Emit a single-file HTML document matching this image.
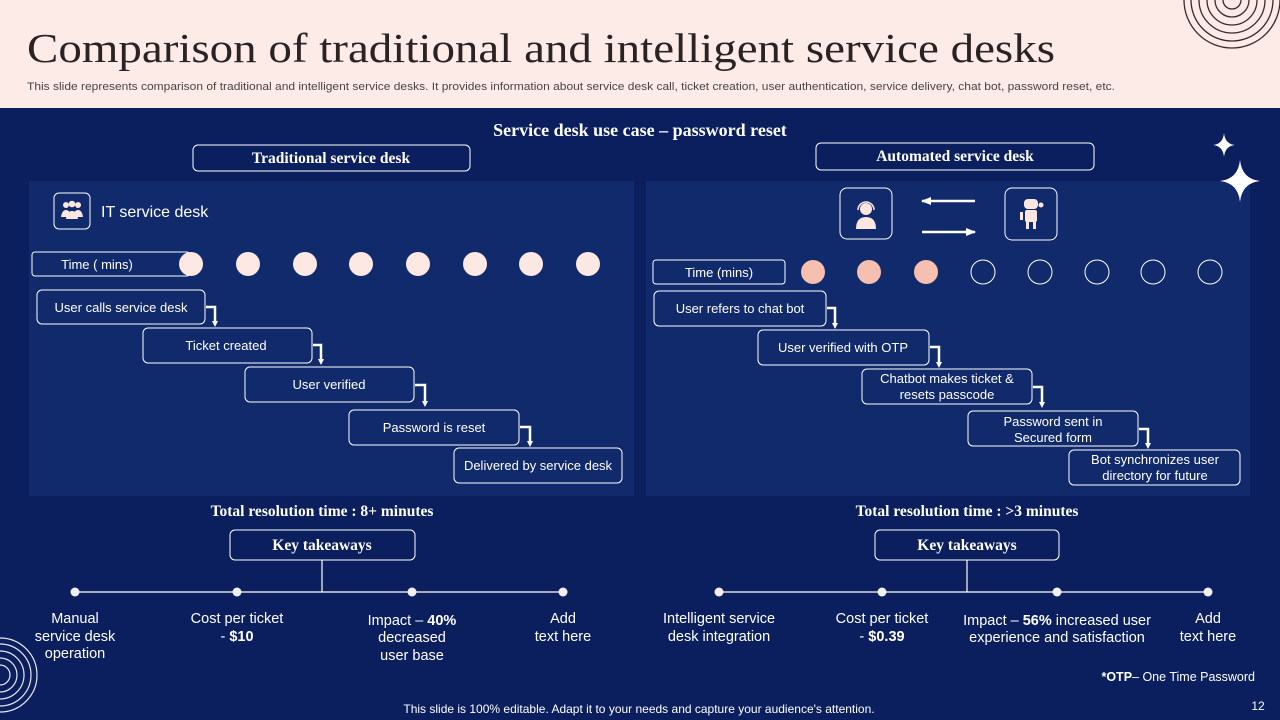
<!DOCTYPE html>
<html><head><meta charset="utf-8"><style>
html,body{margin:0;padding:0;width:1280px;height:720px;overflow:hidden;background:#0b1f5e}
svg{display:block}
.s{font-family:"Liberation Sans",Arial,sans-serif;fill:#fff}
.r{font-family:"Liberation Serif",serif;font-weight:bold;fill:#fff}
</style></head><body>
<svg width="1280" height="720" viewBox="0 0 1280 720" xmlns="http://www.w3.org/2000/svg">
<defs>
<marker id="ah" markerWidth="6" markerHeight="6" refX="3" refY="3" orient="auto" markerUnits="userSpaceOnUse">
<path d="M0,0 L6,3 L0,6 z" fill="#fff"/></marker>
<marker id="ah2" markerWidth="10" markerHeight="8" refX="9" refY="4" orient="auto" markerUnits="userSpaceOnUse">
<path d="M0,0 L10,4 L0,8 z" fill="#fff"/></marker>
<clipPath id="top"><rect x="0" y="0" width="1280" height="108"/></clipPath>
<clipPath id="bl"><rect x="0" y="108" width="1280" height="612"/></clipPath>
</defs>
<rect x="0" y="0" width="1280" height="720" fill="#0b1f5e"/>
<rect x="0" y="0" width="1280" height="108" fill="#fdebe7"/>
<g clip-path="url(#top)" fill="none" stroke="#3a2a2a" stroke-width="1.3">
<circle cx="1232" cy="0" r="9"/><circle cx="1232" cy="0" r="17"/><circle cx="1232" cy="0" r="25"/><circle cx="1232" cy="0" r="33"/><circle cx="1232" cy="0" r="41"/><circle cx="1232" cy="0" r="48"/>
</g>
<text x="27" y="62" font-family="Liberation Serif,serif" font-size="41" fill="#2b2323" textLength="1028" lengthAdjust="spacingAndGlyphs">Comparison of traditional and intelligent service desks</text>
<text x="27" y="90" font-family="Liberation Sans,sans-serif" font-size="11" fill="#4a4444" textLength="1088" lengthAdjust="spacingAndGlyphs">This slide represents comparison of traditional and intelligent service desks. It provides information about service desk call, ticket creation, user authentication, service delivery, chat bot, password reset, etc.</text>
<g clip-path="url(#bl)" fill="none" stroke="#e8e8f0" stroke-width="1.2">
<circle cx="0" cy="675" r="10"/><circle cx="0" cy="675" r="17"/><circle cx="0" cy="675" r="24"/><circle cx="0" cy="675" r="31"/><circle cx="0" cy="675" r="37"/>
</g>

<text x="640" y="136" text-anchor="middle" class="r" font-size="18">Service desk use case – password reset</text>
<rect x="193" y="145" width="277" height="26" rx="5" fill="none" stroke="#fff" stroke-width="1"/>
<text x="331" y="163" text-anchor="middle" class="r" font-size="15.5">Traditional service desk</text>
<rect x="816" y="143" width="278" height="27" rx="5" fill="none" stroke="#fff" stroke-width="1"/>
<text x="955" y="161" text-anchor="middle" class="r" font-size="15.5">Automated service desk</text>

<rect x="29" y="181" width="605" height="315" fill="#112a6b"/>
<rect x="646" y="181" width="604" height="315" fill="#112a6b"/>

<!-- stars -->
<path d="M1224,133 Q1225,144 1235,145 Q1225,146 1224,157 Q1223,146 1213,145 Q1223,144 1224,133z" fill="#fff"/>
<path d="M1240,160 Q1242,179 1260,181 Q1242,183 1240,202 Q1238,183 1220,181 Q1238,179 1240,160z" fill="#fff"/>

<!-- left -->
<rect x="54" y="193" width="36" height="36" rx="5" fill="none" stroke="#fff"/>
<g fill="#fde6e0"><circle cx="66" cy="205" r="3"/><circle cx="72" cy="204" r="3.3"/><circle cx="78" cy="205" r="3"/>
<path d="M61,217 q1,-7 5,-7 q4,0 5,7z"/><path d="M66,219 q1,-8 6,-8 q5,0 6,8z"/><path d="M73,217 q1,-7 5,-7 q4,0 5,7z"/></g>
<text x="101" y="217" class="s" font-size="16">IT  service desk</text>
<rect x="32" y="252" width="158" height="24" rx="3" fill="none" stroke="#fff"/>
<text x="97" y="269" text-anchor="middle" class="s" font-size="13">Time ( mins)</text>
<g fill="#fde8e4"><circle cx="191" cy="264" r="12"/><circle cx="248" cy="264" r="12"/><circle cx="305" cy="264" r="12"/><circle cx="361" cy="264" r="12"/><circle cx="418" cy="264" r="12"/><circle cx="475" cy="264" r="12"/><circle cx="531" cy="264" r="12"/><circle cx="588" cy="264" r="12"/></g>
<g fill="none" stroke="#fff" stroke-width="1">
<rect x="37" y="290" width="168" height="34" rx="5"/>
<rect x="143" y="328" width="169" height="35" rx="5"/>
<rect x="245" y="367" width="169" height="35" rx="5"/>
<rect x="349" y="410" width="170" height="35" rx="5"/>
<rect x="454" y="448" width="168" height="35" rx="5"/>
</g>
<g class="s" font-size="13" text-anchor="middle">
<text x="121" y="312">User calls service  desk</text>
<text x="226" y="350">Ticket created</text>
<text x="329" y="389">User verified</text>
<text x="434" y="432">Password is reset</text>
<text x="538" y="470">Delivered  by service desk</text>
</g>
<g fill="none" stroke="#fff" stroke-width="2.5" marker-end="url(#ah)">
<path d="M206,307 H215 V324"/>
<path d="M313,345 H321 V362"/>
<path d="M415,385 H425 V404"/>
<path d="M520,427 H530 V444"/>
</g>

<!-- right -->
<rect x="840" y="188" width="52" height="51" rx="7" fill="none" stroke="#fff"/>
<g fill="#fde6e0"><circle cx="866" cy="209" r="6"/><path d="M856,229 q0,-12 10,-12 q10,0 10,12z"/></g>
<path d="M858,210 a8,8 0 0 1 16,0" fill="none" stroke="#fde6e0" stroke-width="1.6"/>
<rect x="1005" y="188" width="52" height="52" rx="7" fill="none" stroke="#fff"/>
<g fill="#fde6e0"><rect x="1024" y="199" width="14" height="10" rx="4"/><rect x="1025" y="210" width="12" height="12" rx="2"/><rect x="1026" y="222" width="3" height="7"/><rect x="1033" y="222" width="3" height="7"/><rect x="1020" y="212" width="3" height="8"/><circle cx="1041" cy="205" r="2.5"/></g>
<line x1="975" y1="201" x2="922" y2="201" stroke="#fff" stroke-width="2.5" marker-end="url(#ah2)"/>
<line x1="922" y1="232" x2="975" y2="232" stroke="#fff" stroke-width="2.5" marker-end="url(#ah2)"/>
<rect x="653" y="260" width="132" height="24" rx="3" fill="none" stroke="#fff"/>
<text x="719" y="277" text-anchor="middle" class="s" font-size="13">Time (mins)</text>
<g fill="#f6bfb0"><circle cx="813" cy="272" r="12"/><circle cx="869" cy="272" r="12"/><circle cx="926" cy="272" r="12"/></g>
<g fill="none" stroke="#fff" stroke-width="1"><circle cx="983" cy="272" r="12"/><circle cx="1040" cy="272" r="12"/><circle cx="1097" cy="272" r="12"/><circle cx="1153" cy="272" r="12"/><circle cx="1210" cy="272" r="12"/></g>
<g fill="none" stroke="#fff" stroke-width="1">
<rect x="654" y="291" width="172" height="35" rx="5"/>
<rect x="758" y="330" width="171" height="35" rx="5"/>
<rect x="862" y="369" width="170" height="35" rx="5"/>
<rect x="968" y="411" width="170" height="35" rx="5"/>
<rect x="1069" y="450" width="171" height="35" rx="5"/>
</g>
<g class="s" font-size="13" text-anchor="middle">
<text x="740" y="313">User refers to chat bot</text>
<text x="843" y="352">User verified  with OTP</text>
<text x="947" y="383">Chatbot  makes ticket &amp;</text>
<text x="947" y="399">resets passcode</text>
<text x="1053" y="426">Password sent in</text>
<text x="1053" y="442">Secured form</text>
<text x="1155" y="464">Bot synchronizes user</text>
<text x="1155" y="480">directory for future</text>
</g>
<g fill="none" stroke="#fff" stroke-width="2.5" marker-end="url(#ah)">
<path d="M827,308 H835 V326"/>
<path d="M930,347 H939 V365"/>
<path d="M1033,387 H1042 V405"/>
<path d="M1139,429 H1148 V446"/>
</g>

<!-- bottom -->
<text x="322" y="516" text-anchor="middle" class="r" font-size="15.5">Total resolution time : 8+ minutes</text>
<text x="967" y="516" text-anchor="middle" class="r" font-size="15.5">Total resolution time : &gt;3 minutes</text>
<rect x="230" y="530" width="185" height="30" rx="5" fill="none" stroke="#fff"/>
<text x="322" y="550" text-anchor="middle" class="r" font-size="15.5">Key takeaways</text>
<rect x="875" y="530" width="184" height="30" rx="5" fill="none" stroke="#fff"/>
<text x="967" y="550" text-anchor="middle" class="r" font-size="15.5">Key takeaways</text>
<g stroke="#fff" stroke-width="1.2">
<line x1="75" y1="592" x2="563" y2="592"/><line x1="322" y1="560" x2="322" y2="592"/>
<line x1="719" y1="592" x2="1208" y2="592"/><line x1="967" y1="560" x2="967" y2="592"/>
</g>
<g fill="#f2eef4"><circle cx="75" cy="592" r="4.5"/><circle cx="237" cy="592" r="4.5"/><circle cx="412" cy="592" r="4.5"/><circle cx="563" cy="592" r="4.5"/>
<circle cx="719" cy="592" r="4.5"/><circle cx="882" cy="592" r="4.5"/><circle cx="1057" cy="592" r="4.5"/><circle cx="1208" cy="592" r="4.5"/></g>
<g class="s" font-size="14.5" text-anchor="middle">
<text x="75" y="623">Manual</text><text x="75" y="641">service desk</text><text x="75" y="658">operation</text>
<text x="237" y="623">Cost per ticket</text><text x="237" y="641">- <tspan font-weight="bold">$10</tspan></text>
<text x="412" y="625">Impact – <tspan font-weight="bold">40%</tspan></text><text x="412" y="642">decreased</text><text x="412" y="660">user base</text>
<text x="563" y="623">Add</text><text x="563" y="641">text here</text>
<text x="719" y="623">Intelligent  service</text><text x="719" y="641">desk integration</text>
<text x="882" y="623">Cost per ticket</text><text x="882" y="641">- <tspan font-weight="bold">$0.39</tspan></text>
<text x="1057" y="625">Impact – <tspan font-weight="bold">56%</tspan> increased user</text><text x="1057" y="642">experience  and satisfaction</text>
<text x="1208" y="623">Add</text><text x="1208" y="641">text here</text>
</g>
<text x="1255" y="681" text-anchor="end" class="s" font-size="12.5"><tspan font-weight="bold">*OTP</tspan>– One Time Password</text>
<text x="639" y="713" text-anchor="middle" class="s" font-size="12">This slide is 100% editable. Adapt it to your needs and capture your audience's attention.</text>
<text x="1258" y="710" text-anchor="middle" class="s" font-size="12">12</text>
</svg>
</body></html>
